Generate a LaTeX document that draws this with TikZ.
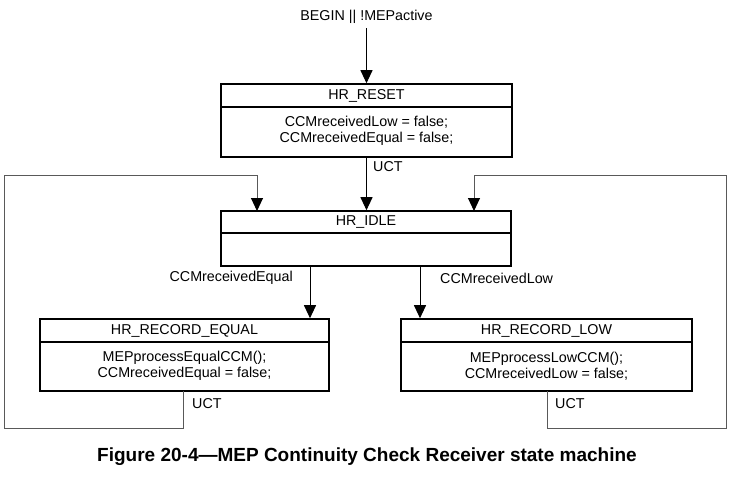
\documentclass[tikz,border=0pt]{standalone}
\usepackage{fontspec}
\setmainfont{Liberation Sans}
\usetikzlibrary{arrows.meta,calc}
\begin{document}
\begin{tikzpicture}[x=1pt,y=-1pt,
  statebox/.style={draw, line width=1.6pt, minimum width=#1, inner sep=0pt},
  txt/.style={font=\fontsize{14.3}{16.5}\selectfont, inner sep=0pt, align=center},
  arr/.style={line width=1pt, -{Triangle[width=12pt,length=13pt]}},
  loop/.style={line width=1pt, draw=black!65, -{Triangle[width=12pt,length=13pt,color=black]}},
  lbl/.style={font=\fontsize{14.3}{16.5}\selectfont, inner sep=0pt}]
\useasboundingbox (0,0) rectangle (734,482);
% RESET
\node[statebox=291pt, minimum height=73pt] (reset) at (366.5,120.5) {};
\draw[line width=1.6pt] (221,107) -- (512,107);
\node[txt] (resetT) at (366.5,95.5) {HR\_RESET};
\node[txt] (resetB) at (366.5,131) {CCMreceivedLow = false;\\CCMreceivedEqual = false;};
% IDLE
\node[statebox=290pt, minimum height=55pt] (idle) at (366,238.5) {};
\draw[line width=1.6pt] (221,233) -- (511,233);
\node[txt] (idleT) at (366,222) {HR\_IDLE};
% EQUAL
\node[statebox=289pt, minimum height=72pt] (eq) at (184.5,355) {};
\draw[line width=1.6pt] (40,342) -- (329,342);
\node[txt] (eqT) at (184.5,330.5) {HR\_RECORD\_EQUAL};
\node[txt] (eqB) at (184.5,366) {MEPprocessEqualCCM();\\CCMreceivedEqual = false;};
% LOW
\node[statebox=291pt, minimum height=72pt] (low) at (546.5,355) {};
\draw[line width=1.6pt] (401,342) -- (692,342);
\node[txt] (lowT) at (546.5,330.5) {HR\_RECORD\_LOW};
\node[txt] (lowB) at (546.5,366) {MEPprocessLowCCM();\\CCMreceivedLow = false;};
% begin
\node[lbl] (begin) at (366.5,17) {BEGIN || !MEPactive};
\draw[arr] (366.5,28) -- (reset.north);
% reset -> idle
\draw[arr] (reset.south) -- (reset.south |- idle.north);
\node[lbl, anchor=west] (uct0) at (373,167) {UCT};
% idle -> equal / low
\coordinate (eqin) at (310,266);
\coordinate (lowin) at (420,266);
\draw[arr] (eqin) -- (eqin |- eq.north);
\draw[arr] (lowin) -- (lowin |- low.north);
\node[lbl, anchor=east] (ceq) at (293,278) {CCMreceivedEqual};
\node[lbl, anchor=west] (clow) at (440,278) {CCMreceivedLow};
% loops
\coordinate (eqout) at (183,391);
\coordinate (idleinL) at (257,211);
\draw[loop] (eqout) -- (183,428) -- (4,428) -- (4,175) -- (257,175) -- (idleinL);
\node[lbl, anchor=west] (uct1) at (192,404) {UCT};
\coordinate (lowout) at (547,391);
\coordinate (idleinR) at (474,211);
\draw[loop] (lowout) -- (547,428) -- (726,428) -- (726,175) -- (474,175) -- (idleinR);
\node[lbl, anchor=west] (uct2) at (555,404) {UCT};
% caption
\node[font=\bfseries\fontsize{19}{22}\selectfont, inner sep=0pt] (cap) at (367,457) {Figure 20-4—MEP Continuity Check Receiver state machine};
\end{tikzpicture}
\end{document}
